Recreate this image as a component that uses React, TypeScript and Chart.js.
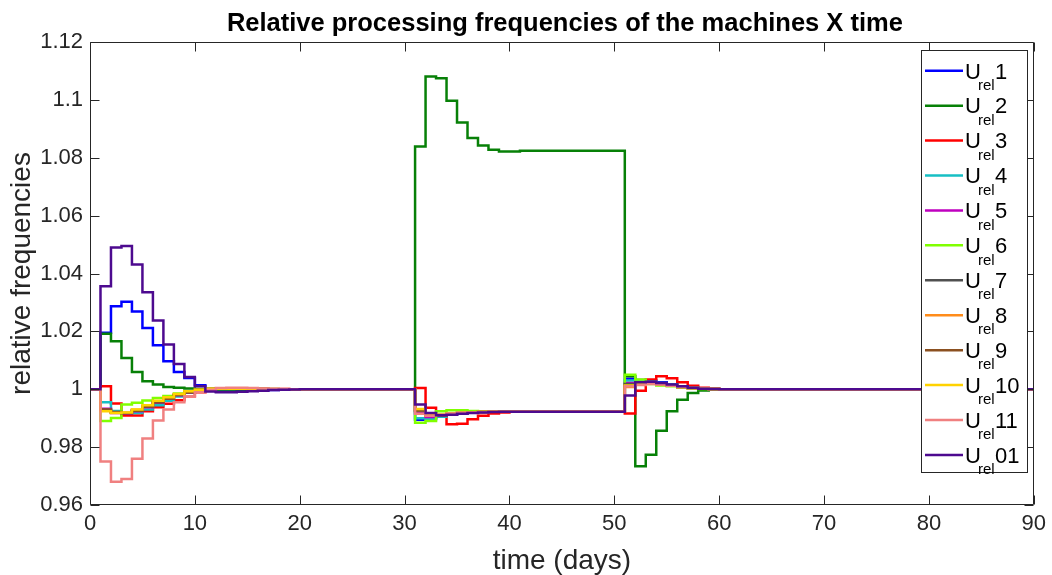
import React, { useEffect, useRef } from "react";
import { Chart, registerables } from "chart.js";

Chart.register(...registerables);

const chartTitle = "Relative processing frequencies of the machines X time";
const xAxisTitle = "time (days)";
const yAxisTitle = "relative frequencies";

const xTickValues = [0, 10, 20, 30, 40, 50, 60, 70, 80, 90];
const yTickValues = [0.96, 0.98, 1, 1.02, 1.04, 1.06, 1.08, 1.1, 1.12];

// days at which the stair values change (value holds until next day listed)
const stepDays = [
  0,
  1, 2, 3, 4, 5, 6, 7, 8, 9, 10, 11, 12, 13, 14, 15, 16, 17, 18, 19, 20,
  31, 32, 33, 34, 35, 36, 37, 38, 39, 40, 41,
  51, 52, 53, 54, 55, 56, 57, 58, 59, 60,
  90,
];

const u1 = [
  1,
  1.0195, 1.0287, 1.0302, 1.0269, 1.0212, 1.0152, 1.0097, 1.006, 1.0039, 1.0014, 0.9995, 0.9992, 0.9992, 0.9993, 0.9995, 0.9996, 0.9997, 0.9998, 0.9999, 1.0,
  0.9895, 0.99, 0.9908, 0.9913, 0.9917, 0.9919, 0.9921, 0.9922, 0.9922, 0.9922, 0.9922,
  1.0036, 1.0032, 1.003, 1.0024, 1.0017, 1.001, 1.0005, 1.0002, 1.0001, 1.0,
  1,
];
const u2 = [
  1,
  1.0192, 1.0166, 1.0108, 1.006, 1.0028, 1.0016, 1.0008, 1.0005, 1.0003, 1.0001, 1.0, 0.9999, 0.9999, 0.9999, 1.0, 1.0, 1.0, 1.0, 1.0, 1.0,
  1.0839, 1.1081, 1.1075, 1.0997, 1.0922, 1.0868, 1.0842, 1.0828, 1.0822, 1.0822, 1.0824,
  1.0045, 0.9734, 0.9774, 0.9857, 0.9924, 0.9964, 0.9987, 0.9996, 0.9999, 1.0,
  1,
];
const u3 = [
  1,
  1.001, 0.9951, 0.9909, 0.9909, 0.9924, 0.9938, 0.995, 0.9962, 0.9976, 0.999, 0.9998, 1.0002, 1.0003, 1.0003, 1.0002, 1.0002, 1.0001, 1.0001, 1.0, 1.0,
  1.0004, 0.9936, 0.9907, 0.9879, 0.9881, 0.9896, 0.9908, 0.9916, 0.992, 0.9922, 0.9922,
  0.9916, 0.9995, 1.0034, 1.0045, 1.0038, 1.0024, 1.0012, 1.0005, 1.0002, 1.0,
  1,
];
const u4 = [
  1,
  0.9955, 0.9925, 0.9915, 0.9918, 0.993, 0.9945, 0.996, 0.9975, 0.9988, 0.9996, 1.0001, 1.0002, 1.0002, 1.0002, 1.0001, 1.0001, 1.0, 1.0, 1.0, 1.0,
  0.99, 0.9896, 0.9905, 0.9912, 0.9917, 0.992, 0.9921, 0.9922, 0.9922, 0.9922, 0.9922,
  1.003, 1.0028, 1.0026, 1.0022, 1.0016, 1.001, 1.0005, 1.0002, 1.0001, 1.0,
  1,
];
const u5 = [
  1,
  0.9933, 0.9918, 0.9915, 0.9924, 0.9938, 0.9953, 0.9967, 0.9979, 0.9989, 0.9996, 1.0001, 1.0002, 1.0002, 1.0002, 1.0001, 1.0001, 1.0, 1.0, 1.0, 1.0,
  0.9918, 0.9904, 0.9909, 0.9914, 0.9918, 0.992, 0.9921, 0.9922, 0.9922, 0.9922, 0.9922,
  1.0022, 1.0021, 1.0021, 1.0018, 1.0014, 1.0009, 1.0005, 1.0002, 1.0001, 1.0,
  1,
];
const u6 = [
  1,
  0.989, 0.9901, 0.9947, 0.9953, 0.9961, 0.997, 0.9977, 0.9985, 0.9993, 0.9998, 1.0002, 1.0003, 1.0003, 1.0002, 1.0002, 1.0001, 1.0001, 1.0, 1.0, 1.0,
  0.9884, 0.989, 0.9924, 0.9927, 0.9927, 0.9925, 0.9924, 0.9923, 0.9922, 0.9922, 0.9922,
  1.005, 1.0034, 1.0018, 1.0013, 1.001, 1.0006, 1.0003, 1.0001, 1.0, 1.0,
  1,
];
const u7 = [
  1,
  0.9928, 0.992, 0.9918, 0.9927, 0.9941, 0.9956, 0.9969, 0.9981, 0.999, 0.9997, 1.0001, 1.0002, 1.0002, 1.0002, 1.0001, 1.0001, 1.0, 1.0, 1.0, 1.0,
  0.9925, 0.9908, 0.9911, 0.9915, 0.9918, 0.992, 0.9921, 0.9922, 0.9922, 0.9922, 0.9922,
  1.0018, 1.002, 1.002, 1.0017, 1.0013, 1.0008, 1.0004, 1.0002, 1.0001, 1.0,
  1,
];
const u8 = [
  1,
  0.9926, 0.9919, 0.9919, 0.9929, 0.9943, 0.9958, 0.997, 0.9982, 0.9991, 0.9997, 1.0001, 1.0002, 1.0002, 1.0002, 1.0001, 1.0001, 1.0, 1.0, 1.0, 1.0,
  0.9928, 0.9909, 0.9911, 0.9915, 0.9918, 0.992, 0.9921, 0.9922, 0.9922, 0.9922, 0.9922,
  1.0008, 1.0016, 1.0019, 1.0017, 1.0013, 1.0008, 1.0004, 1.0002, 1.0001, 1.0,
  1,
];
const u9 = [
  1,
  0.993, 0.9921, 0.9917, 0.9926, 0.994, 0.9955, 0.9968, 0.998, 0.999, 0.9997, 1.0001, 1.0002, 1.0002, 1.0002, 1.0001, 1.0001, 1.0, 1.0, 1.0, 1.0,
  0.9927, 0.9909, 0.991, 0.9915, 0.9918, 0.992, 0.9921, 0.9922, 0.9922, 0.9922, 0.9922,
  1.0012, 1.0018, 1.002, 1.0017, 1.0013, 1.0008, 1.0004, 1.0002, 1.0001, 1.0,
  1,
];
const u10 = [
  1,
  0.9924, 0.9918, 0.992, 0.993, 0.9945, 0.996, 0.9972, 0.9984, 0.9993, 0.9998, 1.0002, 1.0002, 1.0002, 1.0002, 1.0001, 1.0001, 1.0, 1.0, 1.0, 1.0,
  0.9932, 0.991, 0.9912, 0.9916, 0.9919, 0.992, 0.9921, 0.9922, 0.9922, 0.9922, 0.9922,
  1.0013, 1.0018, 1.002, 1.0017, 1.0013, 1.0008, 1.0004, 1.0002, 1.0001, 1.0,
  1,
];
const u11 = [
  1,
  0.975, 0.968, 0.969, 0.976, 0.983, 0.9892, 0.993, 0.9955, 0.9976, 0.999, 0.9998, 1.0004, 1.0005, 1.0005, 1.0004, 1.0003, 1.0002, 1.0001, 1.0, 1.0,
  0.9915, 0.9908, 0.9912, 0.9916, 0.9919, 0.992, 0.9921, 0.9922, 0.9922, 0.9922, 0.9922,
  1.001, 1.0015, 1.0018, 1.0016, 1.0012, 1.0008, 1.0004, 1.0002, 1.0001, 1.0,
  1,
];
const u01 = [
  1,
  1.0356, 1.049, 1.0495, 1.0431, 1.0335, 1.0238, 1.0155, 1.0087, 1.0042, 1.001, 0.9992, 0.999, 0.999, 0.9991, 0.9993, 0.9995, 0.9997, 0.9998, 0.9999, 1.0,
  0.9947, 0.9918, 0.991, 0.9912, 0.9915, 0.9918, 0.992, 0.9921, 0.9922, 0.9922, 0.9922,
  0.9978, 1.0024, 1.0026, 1.0022, 1.0016, 1.001, 1.0005, 1.0002, 1.0001, 1.0,
  1,
];

const seriesLabels = ["1", "2", "3", "4", "5", "6", "7", "8", "9", "10", "11", "01"];
const seriesValues = [u1, u2, u3, u4, u5, u6, u7, u8, u9, u10, u11, u01];
const seriesColors = [
  "#0000FF", "#078007", "#FF0000", "#17BFC4", "#BF00BF", "#80FF00",
  "#505050", "#FF8C1A", "#8B5020", "#FFD200", "#F08080", "#4D0A8F",
];

const FONT = '"Liberation Sans", Arial, Helvetica, sans-serif';
const AXIS_COLOR = "#262626";

const framePlugin = {
  id: "matlabFrame",
  afterDatasetsDraw(chart: any) {
    const { ctx, chartArea: a, scales } = chart;
    const xs = scales.x;
    const ys = scales.y;
    const tl = 9;
    ctx.save();
    ctx.strokeStyle = AXIS_COLOR;
    ctx.lineWidth = 1;
    ctx.beginPath();
    const L = Math.round(a.left) + 0.5;
    const R = Math.round(a.right) - 0.5;
    const T = Math.round(a.top) + 0.5;
    const B = Math.round(a.bottom) - 0.5;
    ctx.moveTo(L, T);
    ctx.lineTo(R, T);
    ctx.lineTo(R, B);
    ctx.lineTo(L, B);
    ctx.closePath();
    for (const v of xTickValues) {
      const px = Math.round(xs.getPixelForValue(v)) + 0.5;
      ctx.moveTo(px, B);
      ctx.lineTo(px, B - tl);
      ctx.moveTo(px, T);
      ctx.lineTo(px, T + tl);
    }
    for (const v of yTickValues) {
      const py = Math.round(ys.getPixelForValue(v)) + 0.5;
      ctx.moveTo(L, py);
      ctx.lineTo(L + tl, py);
      ctx.moveTo(R, py);
      ctx.lineTo(R - tl, py);
    }
    ctx.stroke();
    ctx.restore();
  },
  afterDraw(chart: any) {
    const { ctx, chartArea: a } = chart;
    ctx.save();
    // title
    ctx.fillStyle = "#000000";
    ctx.font = `bold 25.5px ${FONT}`;
    ctx.textAlign = "center";
    ctx.textBaseline = "alphabetic";
    ctx.fillText(chartTitle, (a.left + a.right) / 2 + 3, 31);

    // legend
    const bx = 921.5, by = 50.5, bw = 106, bh = 422;
    ctx.fillStyle = "#FFFFFF";
    ctx.fillRect(bx, by, bw, bh);
    ctx.strokeStyle = AXIS_COLOR;
    ctx.lineWidth = 1;
    ctx.strokeRect(bx, by, bw, bh);
    const row0 = 70.7;
    const rowGap = 34.93;
    ctx.textAlign = "left";
    for (let i = 0; i < seriesLabels.length; i++) {
      const y = row0 + i * rowGap;
      ctx.strokeStyle = seriesColors[i];
      ctx.lineWidth = 2.5;
      ctx.beginPath();
      ctx.moveTo(925, y);
      ctx.lineTo(963, y);
      ctx.stroke();
      ctx.fillStyle = "#000000";
      ctx.font = `22px ${FONT}`;
      ctx.fillText("U", 965, y + 7.8);
      ctx.font = `15px ${FONT}`;
      ctx.fillText("rel", 978, y + 19.2);
      ctx.font = `22px ${FONT}`;
      ctx.fillText(seriesLabels[i], 995, y + 7.8);
    }
    ctx.restore();
  },
};

export default function App() {
  const canvasRef = useRef<HTMLCanvasElement | null>(null);

  useEffect(() => {
    const canvas = canvasRef.current;
    if (!canvas) return;
    const datasets = seriesValues.map((vals, i) => ({
      label: "U_rel" + seriesLabels[i],
      data: stepDays.map((d, k) => ({ x: d, y: vals[k] })),
      borderColor: seriesColors[i],
      backgroundColor: seriesColors[i],
      borderWidth: 2.5,
      pointRadius: 0,
      stepped: "before" as const,
      fill: false,
      order: seriesValues.length - i,
    }));
    const chart = new Chart(canvas, {
      type: "line",
      data: { datasets },
      options: {
        animation: false,
        responsive: false,
        devicePixelRatio: 1,
        layout: { padding: { top: 42, right: 12, left: 0, bottom: 0 } },
        plugins: {
          legend: { display: false },
          title: { display: false },
          tooltip: { enabled: false },
        },
        scales: {
          x: {
            type: "linear",
            min: 0,
            max: 90,
            afterBuildTicks: (scale: any) => {
              scale.ticks = xTickValues.map((v) => ({ value: v }));
            },
            afterFit: (scale: any) => {
              scale.height = 70;
            },
            grid: { display: false, drawTicks: false },
            border: { display: false },
            ticks: {
              padding: 6,
              color: AXIS_COLOR,
              font: { family: FONT, size: 22 },
              maxRotation: 0,
              autoSkip: false,
            },
            title: {
              display: true,
              text: xAxisTitle,
              color: AXIS_COLOR,
              font: { family: FONT, size: 28, lineHeight: 1 },
              padding: { top: 0, bottom: 0 },
            },
          },
          y: {
            type: "linear",
            min: 0.96,
            max: 1.12,
            afterBuildTicks: (scale: any) => {
              scale.ticks = yTickValues.map((v) => ({ value: v }));
            },
            afterFit: (scale: any) => {
              scale.width = 90;
            },
            grid: { display: false, drawTicks: false },
            border: { display: false },
            ticks: {
              padding: 7,
              color: AXIS_COLOR,
              font: { family: FONT, size: 22 },
              autoSkip: false,
              callback: (v: any) => String(Math.round(Number(v) * 100) / 100),
            },
            title: {
              display: true,
              text: yAxisTitle,
              color: AXIS_COLOR,
              font: { family: FONT, size: 28, lineHeight: 1 },
              padding: { top: 8, bottom: 0 },
            },
          },
        },
      },
      plugins: [framePlugin],
    } as any);
    return () => chart.destroy();
  }, []);

  return (
    <div
      style={{
        position: "fixed",
        left: 0,
        top: 0,
        width: 1052,
        height: 575,
        background: "#FFFFFF",
      }}
    >
      <canvas ref={canvasRef} width={1052} height={575} style={{ display: "block" }} />
    </div>
  );
}
